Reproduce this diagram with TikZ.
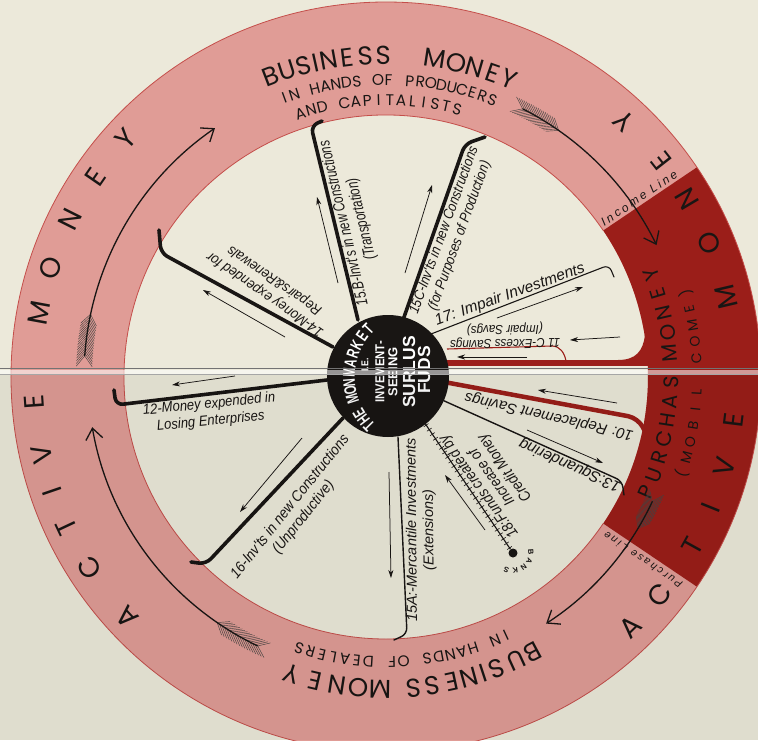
\documentclass[tikz,border=0pt]{standalone}
\usepackage{fontspec}
\usetikzlibrary{arrows.meta,decorations.pathreplacing}
\newfontfamily\ringfont{Poppins}
\newfontfamily\fA[FakeStretch=0.74]{Liberation Sans}
\newfontfamily\fB[FakeStretch=0.87]{Liberation Sans}
\newfontfamily\fC[FakeStretch=0.9]{Liberation Sans}
\newfontfamily\fD{Liberation Sans}
\newfontfamily\fK[FakeStretch=0.66]{Liberation Sans}
\newfontfamily\fL[LetterSpace=22]{Liberation Sans}
\definecolor{bgc}{RGB}{236,233,218}
\definecolor{ringpink}{RGB}{224,156,150}
\definecolor{ringedge}{RGB}{196,78,74}
\definecolor{dred}{RGB}{155,30,25}
\definecolor{inkc}{RGB}{25,22,20}
\newcommand{\lpar}{(}
\newcommand{\rpar}{)}
\tikzset{
  thickspoke/.style={draw=inkc, line width=3.6pt, rounded corners=7pt, line cap=round},
  thinspoke/.style={draw=inkc, line width=1.4pt, rounded corners=6pt, line cap=round},
  thinarrow/.style={draw=inkc, line width=0.75pt, -{Stealth[length=8pt,width=5pt,inset=2.5pt]}},
  lab/.style={inner sep=0pt, align=center, text=inkc},
  ringL/.style={inner sep=0pt, text=inkc, font=\ringfont\fontsize{28}{28}\selectfont},
  ringM/.style={inner sep=0pt, text=inkc, font=\ringfont\fontsize{26}{26}\selectfont},
  ringS/.style={inner sep=0pt, text=inkc, font=\ringfont\fontsize{15.5}{15.5}\selectfont},
  purch/.style={inner sep=0pt, text=inkc, font=\ringfont\fontsize{21}{21}\selectfont},
  purchS/.style={inner sep=0pt, text=inkc, font=\ringfont\fontsize{14}{14}\selectfont},
  disklet/.style={inner sep=0pt, text=white, font=\fK\bfseries\fontsize{17}{17}\selectfont},
  diskline/.style={inner sep=0pt, text=white, rotate=90},
  bankslet/.style={inner sep=0pt, text=inkc, font=\fD\bfseries\fontsize{7.5}{7.5}\selectfont}
}
\newcommand{\placeletters}[5]{%
  \foreach \ch/\an [count=\i] in {#5} {%
    \pgfmathsetmacro\rr{\an+(#4)}%
    \node[#2, rotate=\rr] (#1\i) at (\an:#3) {\ch};%
  }}
\newcommand{\arcletters}[7]{%
  \foreach \ch [count=\i from 0] in {#7} {%
    \pgfmathsetmacro\an{#5+\i*(#6)}%
    \pgfmathsetmacro\rr{\an+(#4)}%
    \node[#2, rotate=\rr] (#1\i) at (\an:#3) {\ch};%
  }}
\newcommand{\feathers}[3]{%
  \foreach \k in {0,...,16} {%
    \pgfmathsetmacro\fa{#1-\k*(#2)/16}%
    \pgfmathsetmacro\fb{\fa+2}%
    \pgfmathsetmacro\ro{#3+8}%
    \pgfmathsetmacro\ri{#3-8}%
    \draw[inkc!80, line width=0.45pt] (\fb:\ro pt) -- (\fa:#3 pt) -- (\fb:\ri pt);%
  }}
\newcommand{\ringarrow}[4]{%
  \feathers{#1}{#2}{#4}%
  \draw[inkc, line width=1.3pt, -{Straight Barb[length=11pt,width=17pt]}] (#1:#4 pt) arc[start angle=#1, end angle=#3, radius=#4 pt];}
\begin{document}
\begin{tikzpicture}[x=1pt,y=1pt,line join=round]
\useasboundingbox (-386,-363) rectangle (372,377);
\clip (-386,-363) rectangle (372,377);
\fill[bgc] (-386,-363) rectangle (372,377);
% ring
\fill[ringpink, even odd rule] (0,0) circle[radius=375pt] (0,0) circle[radius=262pt];
\fill[dred] (-34:262pt) arc[start angle=-34, end angle=34, radius=262pt] -- (34:375pt) arc[start angle=34, end angle=-34, radius=375pt] -- cycle;
\draw[ringedge, line width=0.8pt] (0,0) circle[radius=375pt];
\draw[ringedge, line width=0.8pt] (34:262pt) arc[start angle=34, end angle=326, radius=262pt];
% red channels
\coordinate (r1) at (61,28); \coordinate (r2) at (166,31); \coordinate (r3) at (180,16);
\draw[dred, line width=1.1pt] (r1) -- (r2) to[out=0,in=100] (r3);
\coordinate (b1) at (60,14); \coordinate (b2) at (264,14);
\draw[dred, line width=6pt] (b1) -- (b2);
\fill[dred] (232,17) .. controls (250,17) and (257,26) .. (259,42) -- (266,42) -- (266,11) -- cycle;
\coordinate (t1) at (58,-5); \coordinate (t2) at (252,-41); \coordinate (t3) at (263,-62);
\draw[dred, line width=4.5pt, rounded corners=10pt] (t1) -- (t2) -- (t3);
% spokes
\coordinate (s15b) at (-28,57); \coordinate (c15b) at (-75,251); \coordinate (h15b) at (-64,256);
\coordinate (s15c) at (17,57); \coordinate (c15c) at (79,233); \coordinate (h15c) at (99,240);
\coordinate (s17) at (45,43); \coordinate (c17) at (223,112); \coordinate (h17) at (228,100);
\coordinate (s13) at (54,-22); \coordinate (c13) at (236,-104); \coordinate (h13) at (238,-118);
\coordinate (s15a) at (12,-60); \coordinate (c15a) at (21,-257); \coordinate (h15a) at (8,-263);
\coordinate (s16) at (-43,-41); \coordinate (c16) at (-180,-187); \coordinate (h16) at (-195,-185);
\coordinate (s12) at (-59,-3); \coordinate (c12) at (-270,-28); \coordinate (h12) at (-272,-13);
\coordinate (s14) at (-53,30); \coordinate (c14) at (-225,124); \coordinate (h14) at (-227,147);
\coordinate (s18) at (34,-39);
\draw[thickspoke] (s15b) -- (c15b) -- (h15b);
\draw[thickspoke] (s15c) -- (c15c) -- (h15c);
\draw[thinspoke, line width=1.1pt] (s17) -- (c17) -- (h17);
\draw[thinspoke] (s13) -- (c13) -- (h13);
\draw[thinspoke] (s15a) -- (c15a) -- (h15a);
\draw[thickspoke] (s16) -- (c16) -- (h16);
\draw[thickspoke] (s12) -- (c12) -- (h12);
\draw[thickspoke] (s14) -- (c14) -- (h14);
\node[circle, fill=inkc, minimum size=9pt, inner sep=0pt] (bank) at (127,-176) {};
\draw[inkc, line width=1.1pt] (s18) -- (bank);
\draw[inkc, line width=0.6pt, decorate, decoration={ticks, segment length=5.5pt, amplitude=2.8pt}] (s18) -- (bank.center);
% thin arrows
\draw[thinarrow] (-101,40) -- (-183,87);
\draw[thinarrow] (-48,94) -- (-69,180);
\draw[thinarrow] (19,104) -- (46,192);
\draw[thinarrow] (111,59) -- (197,90);
\draw[thinarrow] (234,40) -- (184,37);
\draw[thinarrow] (141,20) -- (71,20);
\draw[thinarrow] (231,-26) -- (152,-13);
\draw[thinarrow] (141,-53) -- (217,-86);
\draw[thinarrow] (99,-153) -- (59,-98);
\draw[thinarrow] (3,-95) -- (5,-201);
\draw[thinarrow] (-84,-61) -- (-146,-135);
\draw[thinarrow] (-151,1) -- (-214,-8);
% disk
\node[circle, fill=inkc, minimum size=122pt, inner sep=0pt] (disk) at (2,1) {};
\begin{scope}[shift={(33,0)}]
\placeletters{dm}{disklet}{70pt}{-90}{T/224.4, H/217.7, E/211, M/197.8, O/191.2, N/184.5, M/176.6, A/168.6, R/160.6, K/152.6, E/144.6, T/136.6}
\end{scope}
\node[diskline, font=\fB\bfseries\fontsize{10}{10}\selectfont] (ie) at (-21,12) {I.E.};
\node[diskline, font=\fB\bfseries\fontsize{13}{13}\selectfont] (inv) at (-6,5) {INVEMENT-};
\node[diskline, font=\fD\bfseries\fontsize{13}{13}\selectfont] (seek) at (7,5) {SEEING};
\node[diskline, font=\fD\bfseries\fontsize{17.5}{17.5}\selectfont] (surp) at (23,5) {SURLUS};
\node[diskline, font=\fD\bfseries\fontsize{17.5}{17.5}\selectfont] (fund) at (38,7) {FUDS};
% labels
\node[lab, rotate=103.4, font=\fA\itshape\fontsize{16}{18}\selectfont] (t15b) at (-33,156) {15.B-Invt's in new Constructions\\(Transportation)};
\node[lab, rotate=70, font=\fB\itshape\fontsize{14.5}{16.5}\selectfont] (t15c) at (66,144) {15C-Inv'ts in new Constructions\\(for Purposes of Production)};
\node[lab, rotate=19.8, font=\fD\itshape\fontsize{15.5}{16}\selectfont] (t17) at (124,82) {17: Impair Investments};
\node[lab, rotate=181, font=\fC\itshape\fontsize{13}{14}\selectfont] (t11c) at (119,41) {11 C-Excess Savings\\(Impair Savgs)};
\node[lab, rotate=167.3, font=\fD\itshape\fontsize{15}{16}\selectfont] (t10) at (163,-39) {10: Replacement Savings};
\node[lab, rotate=155.8, font=\fD\itshape\fontsize{15.5}{16}\selectfont] (t13) at (184,-88) {13:Squandering};
\node[lab, rotate=126, font=\fB\itshape\fontsize{15.5}{16}\selectfont] (t18) at (106,-100) {18:Funds created by\\Increase of\\Credit Money};
\node[lab, rotate=90.5, font=\fD\itshape\fontsize{14.5}{17}\selectfont] (t15a) at (35,-153) {15A:-Mercantile Investments\\(Extensions)};
\node[lab, rotate=51.3, font=\fC\itshape\fontsize{15}{17}\selectfont] (t16) at (-89,-135) {16-Inv'ts in new Constructions\\(Unproductive)};
\node[lab, rotate=5.7, font=\fC\itshape\fontsize{14.5}{17}\selectfont] (t12) at (-176,-36) {12-Money expended in\\Losing Enterprises};
\node[lab, rotate=145.4, font=\fC\itshape\fontsize{14.5}{17}\selectfont] (t14) at (-116,90) {14-Money expended for\\Repairs\&Renewals};
\node[lab, rotate=34, font=\fL\itshape\fontsize{12}{12}\selectfont] (tinc) at (253,179) {Income Line};
\node[lab, rotate=146, font=\fL\itshape\fontsize{10.5}{10.5}\selectfont] (tpur) at (257,-183) {Purchase Line};
\begin{scope}[shift={(127,-176)}]
\placeletters{bk}{bankslet}{18pt}{-90}{B/4, A/-25, N/-54, K/-83, S/-112}
\end{scope}
% ring texts
\placeletters{tb}{ringM}{322pt}{-90}{B/111.0, U/107.8, S/104.8, I/102.6, N/100.3, E/96.9, S/93.7, S/90.5, M/81.3, O/77.3, N/73.9, E/70.7, Y/67.5}
\arcletters{tp}{ringS}{297pt}{-90}{110}{-2.05}{I,N,{},H,A,N,D,S,{},O,F,{},P,R,O,D,U,C,E,R,S}
\arcletters{tc}{ringS}{277pt}{-90}{108}{-2.35}{A,N,D,{},C,A,P,I,T,A,L,I,S,T,S}
\placeletters{bb}{ringM}{312pt}{-90}{B/-61.9, U/-65.4, S/-69.3, I/-71.8, N/-74.6, E/-77.9, S/-81.4, S/-85.0, M/-91.1, O/-95.1, N/-99.0, E/-103.1, Y/-107.7}
\arcletters{bd}{ringS}{285pt}{-90}{-65.1}{-2.37}{I,N,{},H,A,N,D,S,{},O,F,{},D,E,A,L,E,R,S}
\placeletters{la}{ringL}{353pt}{-90}{A/-137.1, C/-147.2, T/-154.8, I/-161.1, V/-167.3, E/-176, M/169.6, O/162.1, N/153.4, E/145.4, Y/137.6}
\placeletters{ra}{ringL}{350pt}{90}{A/-45.6, C/-38.6, T/-28.9, I/-22, V/-14.8, E/-7.1, M/13.2, O/22.5, N/30.6, E/38.1, Y/47.1}
\placeletters{pm}{purch}{285pt}{90}{P/-23.9, U/-20.1, R/-16.3, C/-12.5, H/-8.7, A/-4.9, S/-1.1, M/4.8, O/8.9, N/13, E/17.1, Y/21.2}
\placeletters{mi}{purchS}{311pt}{90}{\lpar/-18.1, M/-15, O/-12, B/-8.9, I/-5.9, L/-2.8, C/3.5, O/6.6, M/9.6, E/12.7, \rpar/15.7}
% ring arrows
\ringarrow{176}{8}{124.5}{302}
\ringarrow{63}{8}{26}{301}
\ringarrow{-25}{6}{-57}{294}
\ringarrow{-115.5}{9}{-170.3}{298}
% lower half tone and fold
\fill[black, opacity=0.05] (-386,-363) rectangle (372,3);
\fill[white, opacity=0.55] (-386,3.5) rectangle (372,7.5);
\draw[black!55, line width=0.9pt] (-386,8.5) -- (372,8.5);
\draw[black!35, line width=0.5pt] (-386,3) -- (372,3);
\end{tikzpicture}
\end{document}
